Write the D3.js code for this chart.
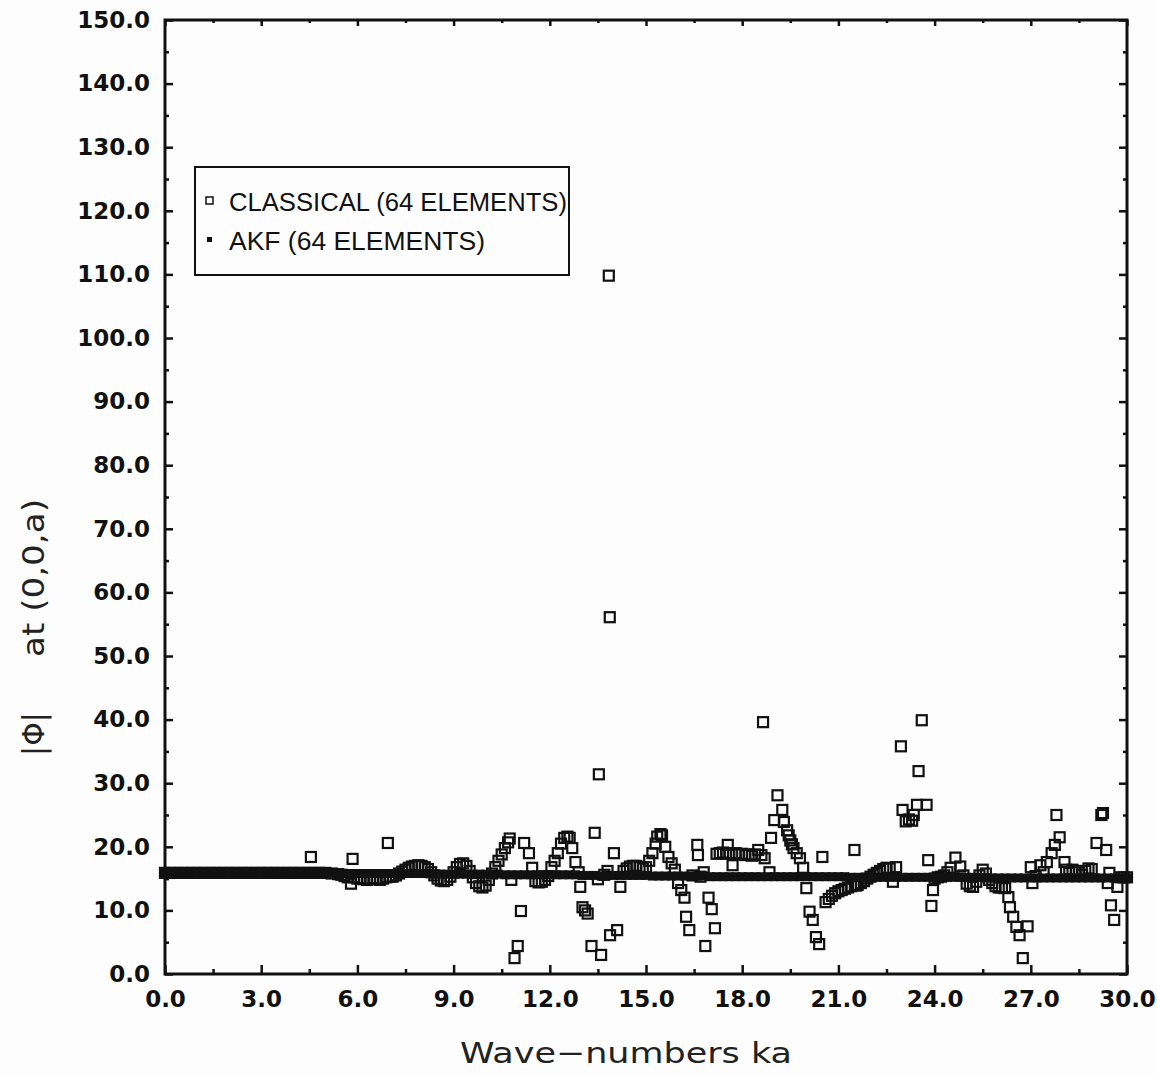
<!DOCTYPE html>
<html>
<head>
<meta charset="utf-8">
<script src="https://cdn.jsdelivr.net/npm/d3@7"></script>
<style>
  html, body { margin: 0; padding: 0; background: #fdfdfd; }
  svg { display: block; }
</style>
</head>
<body>
<svg id="chart" width="1157" height="1075"></svg>
<script>
// |phi| at (0,0,a) versus wave-number ka, classical vs AKF solution (64 elements)

const xTicks = [0, 3, 6, 9, 12, 15, 18, 21, 24, 27, 30];
const xMinorTicks = [1.5, 4.5, 7.5, 10.5, 13.5, 16.5, 19.5, 22.5, 25.5, 28.5];
const yTicks = [0, 10, 20, 30, 40, 50, 60, 70, 80, 90, 100, 110, 120, 130, 140, 150];
const yMinorTicks = [5, 15, 25, 35, 45, 55, 65, 75, 85, 95, 105, 115, 125, 135, 145];

const seriesNames = ["CLASSICAL (64 ELEMENTS)", "AKF (64 ELEMENTS)"];

// Classical solution: [ka, |phi|]
const classical = [
  [0.0,15.9],[0.2,15.9],[0.4,15.9],[0.6,15.9],[0.8,15.9],[1.0,15.9],[1.2,15.9],[1.4,15.9],[1.6,15.9],[1.8,15.9],
  [2.0,15.9],[2.2,15.9],[2.4,15.9],[2.6,15.9],[2.8,15.9],[3.0,15.9],[3.2,15.9],[3.4,15.9],[3.6,15.9],[3.8,15.9],
  [4.0,15.9],[4.2,15.9],[4.4,15.9],[4.55,18.4],[4.6,15.9],[4.8,15.9],[5.0,15.9],[5.2,15.8],[5.4,15.7],[5.5,15.6],
  [5.6,15.4],[5.7,15.2],[5.8,14.2],[5.85,18.1],[5.9,15.2],[6.0,15.0],[6.1,15.1],[6.2,14.9],[6.3,14.8],[6.4,15.0],
  [6.5,15.1],[6.6,14.9],[6.7,14.8],[6.8,15.0],[6.9,15.2],[6.95,20.6],
  [7.0,15.3],[7.1,15.3],[7.2,15.5],[7.3,15.8],[7.4,16.1],[7.5,16.4],[7.6,16.7],[7.7,16.9],[7.8,17.0],[7.9,17.1],
  [8.0,17.0],[8.1,16.8],[8.2,16.5],[8.3,16.0],[8.4,15.5],[8.5,15.0],[8.6,14.7],[8.7,14.6],[8.8,14.8],[8.9,15.3],
  [9.0,16.0],[9.1,16.8],[9.2,17.3],[9.3,17.4],[9.4,17.0],[9.5,16.2],[9.6,15.2],[9.7,14.3],[9.8,13.8],[9.9,13.6],
  [10.0,13.9],[10.1,14.8],[10.2,15.8],[10.3,16.8],[10.4,17.8],[10.5,18.8],[10.6,19.8],[10.7,20.7],[10.75,21.3],[10.8,14.8],
  [10.9,2.5],[11.0,4.4],[11.1,9.9],[11.2,20.6],[11.35,19.0],[11.45,16.7],[11.55,14.6],[11.65,14.4],[11.75,14.5],[11.85,14.8],
  [11.95,15.4],[12.05,16.8],[12.15,17.8],[12.25,19.0],[12.35,20.5],[12.45,21.4],[12.55,21.6],[12.62,21.4],[12.7,19.8],[12.8,17.6],
  [12.9,16.0],[12.95,13.7],[13.02,10.5],[13.1,10.0],[13.18,9.5],[13.3,4.4],[13.4,22.2],[13.5,14.9],[13.53,31.4],[13.6,3.0],
  [13.7,15.6],[13.8,16.2],[13.84,109.8],[13.87,56.1],[13.88,6.1],[14.0,19.0],[14.1,6.9],[14.2,13.7],
  [14.3,16.2],[14.4,16.6],[14.5,16.9],[14.6,17.0],[14.7,17.0],[14.8,16.8],[14.9,16.6],[15.0,16.8],[15.1,17.8],[15.2,19.0],
  [15.3,20.5],[15.35,21.6],[15.45,22.0],[15.5,21.8],[15.6,20.0],[15.7,18.4],[15.8,17.4],[15.9,16.4],[16.0,14.3],[16.1,13.2],
  [16.2,12.0],[16.25,9.0],[16.35,6.9],[16.45,15.5],[16.6,20.3],[16.62,18.7],[16.7,15.3],[16.8,16.0],[16.85,4.4],[16.95,12.0],
  [17.05,10.2],[17.15,7.2],
  [17.2,18.9],[17.3,19.0],[17.4,19.1],[17.5,18.9],[17.55,20.3],[17.6,19.0],[17.7,17.1],[17.8,19.0],[17.9,18.8],[18.0,18.9],
  [18.1,18.7],[18.2,18.8],[18.3,18.6],[18.4,18.8],[18.5,19.5],[18.6,18.7],[18.65,39.6],[18.7,18.2],[18.85,16.0],[18.9,21.4],
  [19.0,24.2],[19.1,28.1],[19.25,25.8],[19.3,23.9],[19.4,22.6],[19.45,21.8],[19.5,21.0],[19.55,20.4],[19.6,19.8],[19.7,19.0],
  [19.8,18.2],[19.9,16.7],[20.0,13.5],[20.1,9.8],[20.2,8.5],[20.3,5.8],[20.4,4.7],[20.5,18.4],
  [20.6,11.3],[20.7,11.8],[20.8,12.3],[20.9,12.7],[21.0,13.0],[21.1,13.2],[21.2,13.4],[21.3,13.6],[21.4,13.8],[21.5,19.5],
  [21.55,13.9],[21.6,14.0],[21.7,14.3],[21.8,14.6],[21.9,15.0],[22.0,15.3],[22.1,15.6],[22.2,15.9],[22.3,16.2],[22.4,16.5],
  [22.5,16.7],[22.6,16.6],[22.7,14.5],[22.8,16.8],[22.95,35.8],[23.0,25.8],[23.1,24.0],[23.2,24.3],[23.3,24.1],[23.35,25.0],
  [23.45,26.6],[23.5,31.9],[23.6,39.9],[23.75,26.6],[23.8,17.9],[23.9,10.7],[23.95,13.2],
  [24.0,15.0],[24.1,15.2],[24.2,15.3],[24.3,15.5],[24.4,16.0],[24.5,16.7],[24.65,18.3],[24.8,16.9],[24.9,15.5],[25.0,14.2],
  [25.1,13.8],[25.2,13.7],[25.3,14.5],[25.4,15.5],[25.5,16.4],[25.6,15.8],[25.7,14.8],[25.8,14.3],[25.9,13.8],[26.0,13.6],
  [26.1,13.6],[26.2,13.5],[26.3,12.1],[26.35,10.5],[26.45,9.0],[26.55,7.4],[26.65,6.1],[26.75,2.5],[26.9,7.5],[27.0,16.8],
  [27.05,14.3],[27.15,15.4],[27.3,17.1],[27.4,16.0],[27.5,17.6],[27.65,19.0],[27.75,20.3],[27.8,25.0],[27.9,21.5],[28.05,17.6],
  [28.1,16.4],[28.2,15.9],[28.3,16.4],[28.4,16.2],[28.5,16.0],[28.6,15.6],[28.7,16.2],[28.8,16.6],[28.9,16.5],[29.05,20.6],
  [29.2,25.0],[29.25,25.3],[29.35,19.5],[29.4,14.3],[29.45,15.9],[29.5,10.8],[29.6,8.5],[29.7,13.7],[29.8,15.2],[29.9,15.2],
  [30.0,15.2]
];

// AKF solution sampled every 0.2 in ka (one row per unit of ka)
const akfKaStep = 0.2;
const akfPhi = [
  15.9,15.9,15.9,15.9,15.9,   // 0
  15.9,15.9,15.9,15.9,15.9,   // 1
  15.9,15.9,15.9,15.9,15.9,   // 2
  15.9,15.9,15.9,15.9,15.9,   // 3
  15.9,15.9,15.9,15.9,15.9,   // 4
  15.9,15.9,15.8,15.8,15.8,   // 5
  15.8,15.8,15.8,15.8,15.8,   // 6
  15.8,15.8,15.8,15.8,15.8,   // 7
  15.8,15.8,15.7,15.7,15.7,   // 8
  15.7,15.7,15.7,15.7,15.7,   // 9
  15.7,15.7,15.7,15.6,15.6,   // 10
  15.6,15.6,15.6,15.6,15.6,   // 11
  15.6,15.6,15.6,15.6,15.6,   // 12
  15.5,15.5,15.5,15.4,15.5,   // 13
  15.5,15.5,15.5,15.5,15.5,   // 14
  15.5,15.4,15.4,15.4,15.4,   // 15
  15.4,15.4,15.4,15.4,15.4,   // 16
  15.3,15.3,15.3,15.3,15.3,   // 17
  15.3,15.3,15.3,15.3,15.3,   // 18
  15.3,15.3,15.3,15.3,15.3,   // 19
  15.3,15.3,15.3,15.3,15.3,   // 20
  15.3,15.3,15.2,15.2,15.2,   // 21
  15.2,15.2,15.2,15.2,15.2,   // 22
  15.2,15.2,15.2,15.2,15.2,   // 23
  15.2,15.2,15.2,15.2,15.2,   // 24
  15.2,15.2,15.2,15.1,15.1,   // 25
  15.1,15.1,15.1,15.1,15.1,   // 26
  15.1,15.1,15.1,15.1,15.1,   // 27
  15.1,15.1,15.1,15.1,15.1,   // 28
  15.1,15.1,15.1,15.1,15.1,   // 29
  15.1                        // 30
];
const akf = akfPhi.map((v, i) => [+(i * akfKaStep).toFixed(2), v]);

const svg = d3.select("#chart");
const W = 1157, H = 1075;
const plot = { left: 165, right: 1127, top: 20, bottom: 974 };

const x = d3.scaleLinear().domain([0, 30]).range([plot.left, plot.right]);
const y = d3.scaleLinear().domain([0, 150]).range([plot.bottom, plot.top]);
const fmt = d3.format(".1f");

svg.append("rect").attr("width", W).attr("height", H).attr("fill", "#fdfdfd");

const tickFont = g => g.selectAll("text")
  .attr("font-family", "'DejaVu Sans', Verdana, sans-serif")
  .attr("font-weight", "bold")
  .attr("font-size", 23)
  .attr("fill", "#111");
const tickStroke = g => {
  g.select(".domain").remove();
  g.selectAll(".tick line").attr("stroke", "#111").attr("stroke-width", 2.5);
};

// bottom axis (ticks inward)
svg.append("g").attr("transform", `translate(0,${plot.bottom})`)
  .call(d3.axisBottom(x).tickValues(xTicks).tickSize(-9).tickPadding(17).tickFormat(fmt))
  .call(tickStroke).call(tickFont);
svg.append("g").attr("transform", `translate(0,${plot.bottom})`)
  .call(d3.axisBottom(x).tickValues(xMinorTicks).tickSize(-5).tickFormat(""))
  .call(tickStroke);

// left axis (ticks inward)
svg.append("g").attr("transform", `translate(${plot.left},0)`)
  .call(d3.axisLeft(y).tickValues(yTicks).tickSize(-8).tickPadding(15).tickFormat(fmt))
  .call(tickStroke).call(tickFont);
svg.append("g").attr("transform", `translate(${plot.left},0)`)
  .call(d3.axisLeft(y).tickValues(yMinorTicks).tickSize(-4).tickFormat(""))
  .call(tickStroke);

// top axis
svg.append("g").attr("transform", `translate(0,${plot.top})`)
  .call(d3.axisTop(x).tickValues(xTicks).tickSize(-6).tickFormat(""))
  .call(tickStroke);
svg.append("g").attr("transform", `translate(0,${plot.top})`)
  .call(d3.axisTop(x).tickValues(xMinorTicks).tickSize(-3).tickFormat(""))
  .call(tickStroke);

// right axis
svg.append("g").attr("transform", `translate(${plot.right},0)`)
  .call(d3.axisRight(y).tickValues(yTicks).tickSize(-8).tickFormat(""))
  .call(tickStroke);
svg.append("g").attr("transform", `translate(${plot.right},0)`)
  .call(d3.axisRight(y).tickValues(yMinorTicks).tickSize(-4).tickFormat(""))
  .call(tickStroke);

// frame
svg.append("rect")
  .attr("x", plot.left).attr("y", plot.top)
  .attr("width", plot.right - plot.left).attr("height", plot.bottom - plot.top)
  .attr("fill", "none").attr("stroke", "#111").attr("stroke-width", 3);

// classical: open squares
const cs = 10;
svg.append("g").selectAll("rect").data(classical).join("rect")
  .attr("x", d => x(d[0]) - cs / 2)
  .attr("y", d => y(d[1]) - cs / 2)
  .attr("width", cs).attr("height", cs)
  .attr("fill", "none").attr("stroke", "#111").attr("stroke-width", 2.2);

// AKF: small filled squares
const as = 9;
svg.append("g").selectAll("rect").data(akf).join("rect")
  .attr("x", d => x(d[0]) - as / 2)
  .attr("y", d => y(d[1]) - as / 2)
  .attr("width", as).attr("height", as)
  .attr("fill", "#111");

// legend
const lg = svg.append("g");
lg.append("rect").attr("x", 195).attr("y", 167).attr("width", 374).attr("height", 108)
  .attr("fill", "none").attr("stroke", "#111").attr("stroke-width", 2);
lg.append("rect").attr("x", 206).attr("y", 197).attr("width", 7).attr("height", 7)
  .attr("fill", "none").attr("stroke", "#111").attr("stroke-width", 1.5);
lg.append("rect").attr("x", 207).attr("y", 237).attr("width", 5).attr("height", 5)
  .attr("fill", "#111");
const legendFont = "'Liberation Sans', Arial, sans-serif";
lg.append("text").attr("x", 229).attr("y", 211)
  .attr("font-family", legendFont).attr("font-size", 26).attr("fill", "#111")
  .attr("textLength", 338).attr("lengthAdjust", "spacingAndGlyphs")
  .text(seriesNames[0]);
lg.append("text").attr("x", 229).attr("y", 250)
  .attr("font-family", legendFont).attr("font-size", 26).attr("fill", "#111")
  .attr("textLength", 256).attr("lengthAdjust", "spacingAndGlyphs")
  .text(seriesNames[1]);

// axis titles
const titleFont = "'DejaVu Sans', 'Liberation Sans', sans-serif";
svg.append("text").attr("x", 626).attr("y", 1063)
  .attr("text-anchor", "middle")
  .attr("font-family", titleFont).attr("font-size", 29).attr("fill", "#222")
  .attr("textLength", 332).attr("lengthAdjust", "spacingAndGlyphs")
  .text("Wave\u2212numbers ka");

svg.append("text")
  .attr("transform", "translate(44,734) rotate(-90)")
  .attr("text-anchor", "middle")
  .attr("font-family", titleFont).attr("font-size", 30).attr("fill", "#222")
  .text("|\u03A6|");
svg.append("text")
  .attr("transform", "translate(44,578) rotate(-90)")
  .attr("text-anchor", "middle")
  .attr("font-family", titleFont).attr("font-size", 30).attr("fill", "#222")
  .attr("textLength", 158).attr("lengthAdjust", "spacingAndGlyphs")
  .text("at (0,0,a)");
</script>
</body>
</html>
